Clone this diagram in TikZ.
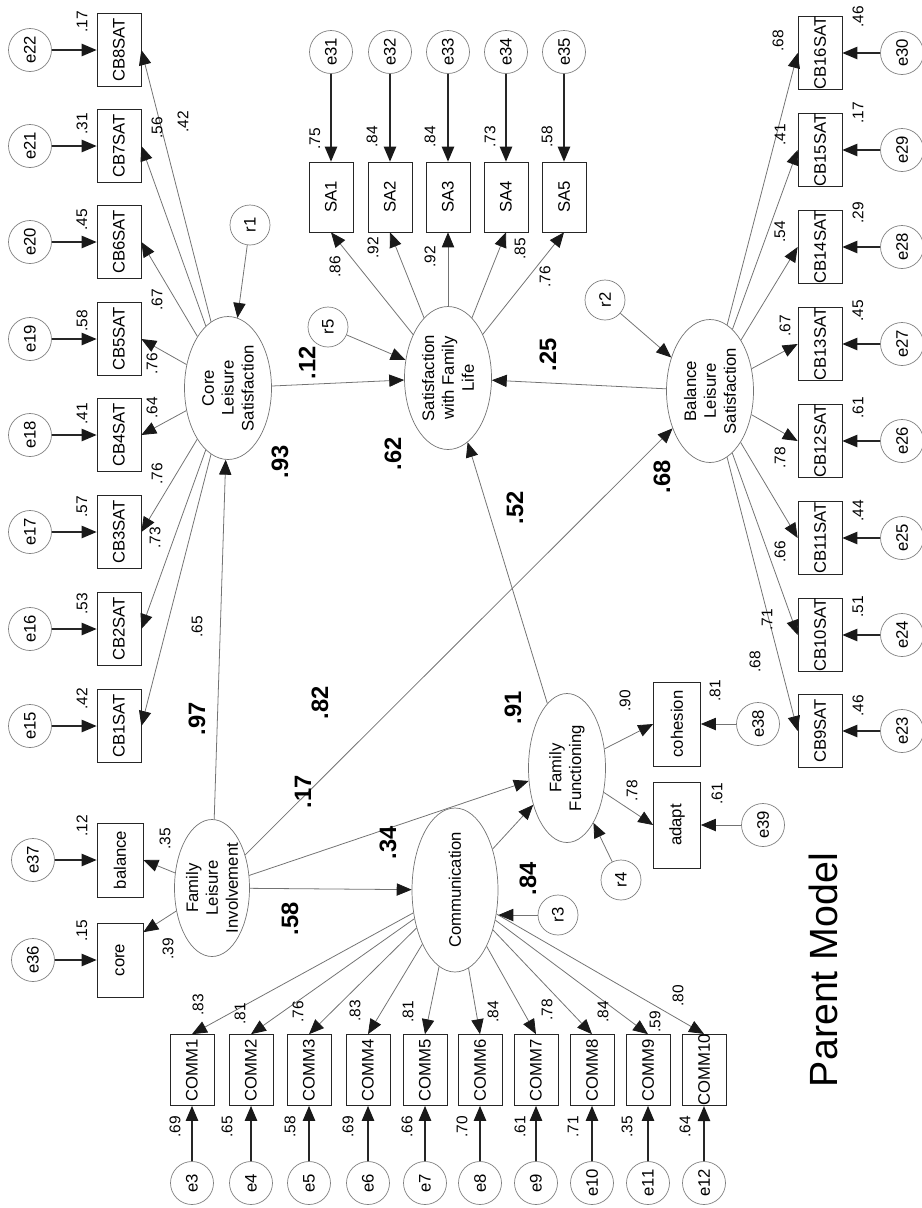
\documentclass[tikz,border=0pt]{standalone}
\usepackage{fontspec}
\setmainfont{Liberation Sans}
\usetikzlibrary{shapes.geometric,arrows.meta}

\tikzset{
  obs/.style={draw=black!85, rectangle, rotate=90, minimum width=1.46cm, minimum height=0.88cm, inner sep=0pt, font=\fontsize{9.5}{11}\selectfont},
  lat/.style={draw=black!55, ellipse, rotate=90, minimum width=2.86cm, minimum height=1.74cm, inner sep=0pt, align=center, font=\fontsize{9.5}{11.3}\selectfont},
  err/.style={draw=black!50, circle, rotate=90, minimum size=0.86cm, inner sep=0pt, font=\fontsize{9.5}{11}\selectfont},
  res/.style={err, minimum size=0.8cm},
  wt/.style={rotate=90, inner sep=0pt, font=\fontsize{8.8}{10}\selectfont},
  coef/.style={rotate=90, inner sep=0pt, font=\fontsize{13.5}{15}\selectfont\bfseries},
  lnk/.style={draw=black!55, line width=0.45pt, -{Triangle[length=8.5pt,width=7pt,color=black!90]}},
  errlnk/.style={lnk, draw=black!85, line width=0.8pt},
}

\begin{document}
\begin{tikzpicture}[x=0.02cm, y=-0.02cm]
\useasboundingbox (0,0) rectangle (922,1208);

% latent variables
\node[lat] (cls) at (228,388) {Core\\Leisure\\Satisfaction};
\node[lat] (sfl) at (448,378) {Satisfaction\\with Family\\Life};
\node[lat] (bls) at (710,391) {Balance\\Leisure\\Satisfaction};
\node[lat, minimum width=2.74cm, minimum height=1.5cm] (fli) at (212,888) {Family\\Leisure\\Involvement};
\node[lat, minimum width=2.9cm, minimum height=1.72cm] (com) at (455,890) {Communication};
\node[lat, minimum width=2.98cm, minimum height=1.54cm] (ffn) at (567,768) {Family\\Functioning};

% residuals
\node[res] (r1) at (250,225) {r1};
\node[res] (r2) at (605,300) {r2};
\node[res] (r3) at (558,915) {r3};
\node[res] (r4) at (621,880) {r4};
\node[res] (r5) at (328,327) {r5};

% core leisure items
\foreach \i/\k/\y in {1/15/726,2/16/629,3/17/532,4/18/435,5/19/339,6/20/242,7/21/146,8/22/50}{
  \node[obs] (cb\i) at (119,\y) {CB\i SAT};
  \node[err] (e\k) at (30,\y) {e\k};
  \draw[errlnk] (e\k) -- (cb\i);
  \draw[lnk] (cls) -- (cb\i.south);
}

% balance leisure items
\foreach \i/\k/\y in {9/23/731,10/24/635,11/25/538,12/26/441,13/27/344,14/28/247,15/29/150,16/30/53}{
  \node[obs] (cb\i) at (820,\y) {CB\i SAT};
  \node[err] (e\k) at (902,\y) {e\k};
  \draw[errlnk] (e\k) -- (cb\i);
  \draw[lnk] (bls) -- (cb\i.north);
}

% family life items
\foreach \i/\x in {1/331,2/390,3/448,4/506,5/564}{
  \pgfmathtruncatemacro\k{\i+30}
  \node[obs, minimum width=1.4cm] (sa\i) at (\x,197) {SA\i};
  \node[err] (e\k) at (\x,52) {e\k};
  \draw[errlnk] (e\k) -- (sa\i);
  \draw[lnk] (sfl) -- (sa\i.west);
}

% communication items
\foreach \i/\x in {1/192,2/251,3/309,4/368,5/425,6/480,7/536,8/592,9/648,10/704}{
  \pgfmathtruncatemacro\k{\i+2}
  \node[obs, minimum width=1.42cm] (c\i) at (\x,1070) {COMM\i};
  \node[err] (e\k) at (\x,1183) {e\k};
  \draw[errlnk] (e\k) -- (c\i);
  \draw[lnk] (com) -- (c\i.east);
}

% involvement and functioning items
\node[obs, minimum width=1.48cm, minimum height=0.92cm] (bal) at (120,860) {balance};
\node[obs, minimum width=1.48cm, minimum height=0.92cm] (cor) at (120,960) {core};
\node[obs, minimum width=1.68cm, minimum height=0.94cm] (coh) at (677,724) {cohesion};
\node[obs, minimum width=1.72cm, minimum height=0.94cm] (adp) at (677,825) {adapt};
\node[err] (e36) at (33,960) {e36};
\node[err] (e37) at (33,860) {e37};
\node[err] (e38) at (758,724) {e38};
\node[err] (e39) at (763,825) {e39};
\draw[errlnk] (e36) -- (cor);
\draw[errlnk] (e37) -- (bal);
\draw[lnk] (e38) -- (coh);
\draw[lnk] (e39) -- (adp);
\draw[lnk] (fli) -- (bal.south);
\draw[lnk] (fli) -- (cor.-40);
\draw[lnk] (ffn) -- (coh.north);
\draw[lnk] (ffn) -- (adp.north);

% structural paths
\draw[lnk] (r1) -- (cls);
\draw[lnk] (r2) -- (bls);
\draw[lnk] (r3) -- (com.south |- r3);
\draw[lnk] (r4) -- (ffn);
\draw[lnk] (r5) -- (sfl);
\draw[lnk] (fli) -- (cls);
\draw[lnk] (fli) -- (bls);
\draw[lnk] (fli) -- (ffn);
\draw[lnk] (fli) -- (com);
\draw[lnk] (com) -- (ffn);
\draw[lnk] (cls) -- (sfl);
\draw[lnk] (bls) -- (sfl);
\draw[lnk] (ffn) -- (sfl);

% loadings and squared correlations
\foreach \x/\y/\t [count=\n] in {
  82/22/.17, 82/124/.31, 82/220/.45, 82/321/.58, 82/414/.41, 82/507/.57, 82/604/.53, 82/699/.42,
  183/122/.42, 157/128/.56, 157/300/.67, 152/364/.76, 152/408/.64, 157/474/.76, 155/538/.73, 197/627/.65,
  315/139/.75, 372/137/.84, 430/137/.84, 490/137/.73, 547/137/.58,
  335/267/.86, 373/248/.92, 430/257/.92, 520/249/.85, 545/277/.76,
  858/17/.46, 858/113/.17, 858/213/.29, 858/311/.45, 858/408/.61, 858/511/.44, 858/607/.51, 858/706/.46,
  778/41/.68, 780/135/.41, 780/232/.54, 785/326/.67, 780/458/.78, 780/552/.66, 767/620/.71, 755/662/.68,
  625/701/.90, 632/791/.78, 715/691/.81, 717/794/.61,
  82/826/.12, 82/931/.15, 165/839/.35, 168/949/.39,
  198/1005/.83, 240/1014/.81, 298/1012/.76, 355/1011/.83, 408/1012/.81,
  493/1012/.84, 547/1010/.78, 603/1012/.84, 655/1022/.59, 678/996/.80,
  175/1127/.69, 227/1127/.65, 290/1127/.58, 348/1127/.69, 407/1127/.66,
  462/1127/.70, 520/1127/.61, 573/1127/.71, 627/1127/.35, 685/1127/.64}
  \node[wt] (w\n) at (\x,\y) {\t};

% path coefficients
\foreach \x/\y/\t [count=\n] in {
  307/363/.12, 280/462/.93, 197/719/.97, 320/703/.82, 303/792/.17, 290/919/.58, 388/843/.34,
  513/708/.91, 528/879/.84, 515/508/.52, 393/454/.62, 548/355/.25, 662/477/.68}
  \node[coef] (p\n) at (\x,\y) {\t};

\node[rotate=90, font=\fontsize{22.4}{26}\selectfont] (title) at (823,970) {Parent Model};
\end{tikzpicture}
\end{document}
